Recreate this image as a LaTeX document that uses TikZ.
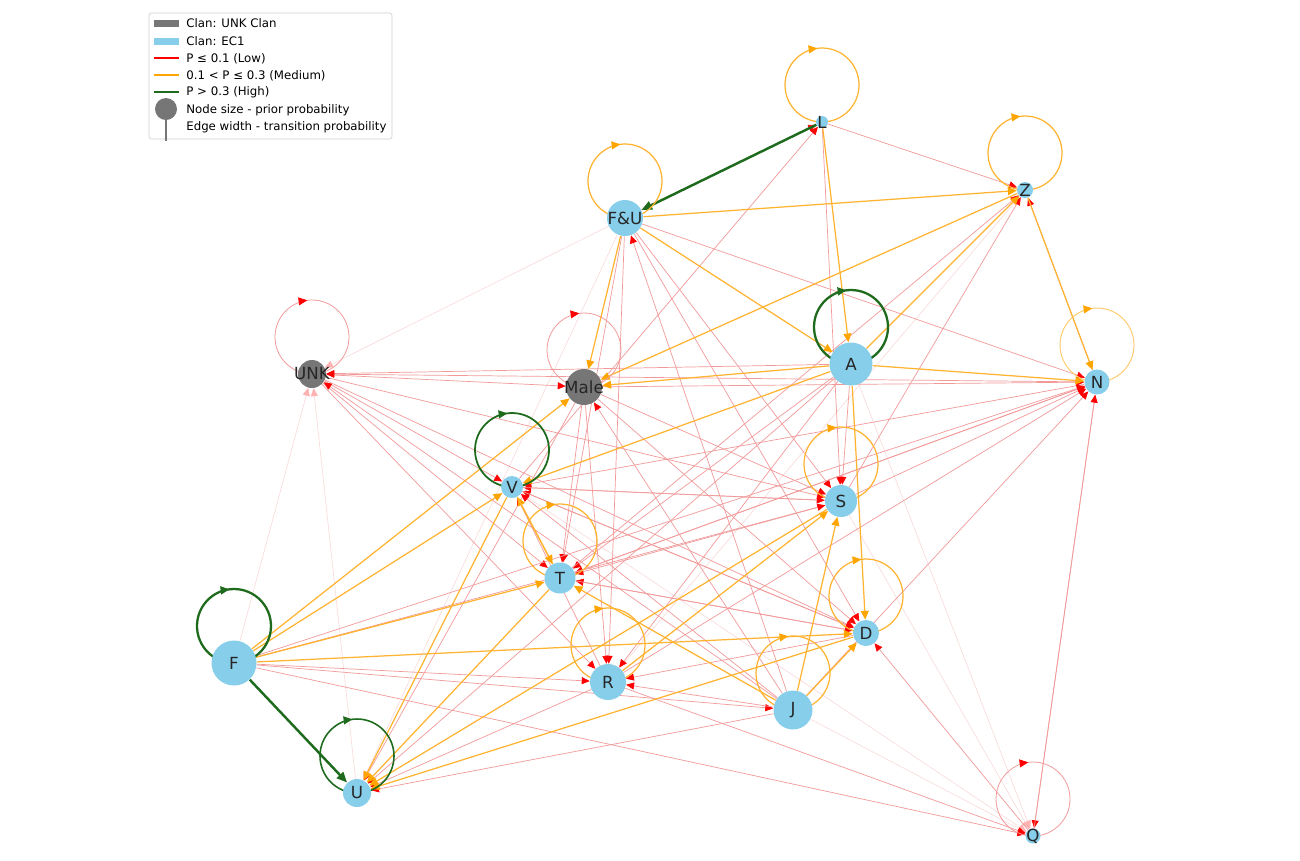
\documentclass[tikz,border=0pt]{standalone}
\usepackage{fontspec}
\setmainfont{DejaVu Sans}
\usetikzlibrary{arrows.meta,calc,backgrounds,decorations.markings}
\definecolor{skyblue}{HTML}{87CEEB}
\definecolor{clangray}{HTML}{767676}
\definecolor{lowred}{HTML}{F29A9A}
\definecolor{palered}{HTML}{FAD6D6}
\definecolor{medorange}{HTML}{FFB330}
\definecolor{tiporange}{HTML}{FFA500}
\definecolor{higreen}{HTML}{1E6B1E}
\tikzset{nd/.style={circle, fill=skyblue, inner sep=0pt, minimum size=#1},
  gnd/.style={nd=#1, fill=clangray},
  lbl/.style={font=\fontsize{9.5}{11}\selectfont, text=black!85, inner sep=0pt},
  lgd/.style={font=\fontsize{6.7}{8}\selectfont, anchor=west, inner sep=0pt},
  lo/.style={draw=lowred, line width=.4pt, -{Triangle[length=4.5pt,width=4pt,color=red]}},
  fa/.style={draw=palered, line width=.3pt, -{Triangle[length=4.5pt,width=4pt,color=red!30]}},
  md/.style={draw=medorange, line width=.7pt, -{Triangle[length=5pt,width=4.5pt,color=tiporange]}},
  hi/.style={draw=higreen, line width=1.4pt, -{Triangle[length=6pt,width=5pt]}},
  selfloop/.style={postaction={decorate}, decoration={markings,
    mark=at position .73 with {\arrow{Triangle[length=5pt,width=4.5pt,color=#1]}}}},
  loloop/.style={draw=lowred, line width=.45pt, selfloop=red},
  mdloop/.style={draw=medorange, line width=.7pt, selfloop=tiporange},
  hiloop/.style={draw=higreen, line width=#1, selfloop=higreen}}

\begin{document}
\begin{tikzpicture}[x=0.02cm, y=-0.02cm]
  \useasboundingbox (0,0) rectangle (1300,860);

  % states
  \node[nd=0.24cm, label={[lbl]center:L}] (L) at (822,122) {};
  \node[nd=0.32cm, label={[lbl]center:Z}] (Z) at (1025,190) {};
  \node[nd=0.72cm, label={[lbl]center:F\&U}] (FU) at (625,218) {};
  \node[nd=0.86cm, label={[lbl]center:A}] (A) at (851,364) {};
  \node[nd=0.50cm, label={[lbl]center:N}] (N) at (1097,382) {};
  \node[gnd=0.56cm, label={[lbl]center:UNK}] (UNK) at (312,374) {};
  \node[gnd=0.72cm, label={[lbl]center:Male}] (Male) at (584,387) {};
  \node[nd=0.44cm, label={[lbl]center:V}] (V) at (512,487) {};
  \node[nd=0.64cm, label={[lbl]center:S}] (S) at (841,501) {};
  \node[nd=0.62cm, label={[lbl]center:T}] (T) at (560,578) {};
  \node[nd=0.52cm, label={[lbl]center:D}] (D) at (866,633) {};
  \node[nd=0.90cm, label={[lbl]center:F}] (F) at (234,663) {};
  \node[nd=0.72cm, label={[lbl]center:R}] (R) at (608,682) {};
  \node[nd=0.78cm, label={[lbl]center:J}] (J) at (793,710) {};
  \node[nd=0.56cm, label={[lbl]center:U}] (U) at (357,793) {};
  \node[nd=0.30cm, label={[lbl]center:Q}] (Q) at (1033,836) {};

  \begin{scope}[on background layer]
    \fill[white] (0,0) rectangle (1300,860);
    % transitions
    \foreach \a/\b in {FU/UNK, F/UNK, U/UNK, A/Q, J/Q, FU/U, V/Q, S/Q, R/Z}
      \draw[fa] (\a) -- (\b);
    \foreach \a/\b in {UNK/Male, A/UNK, N/UNK, UNK/V, UNK/S, UNK/T, UNK/R, UNK/D, J/UNK,
        Male/N, Male/T, Male/R, J/Male, Male/D, Male/S, Male/U,
        FU/N, FU/T, FU/R, J/FU, FU/D, FU/S, FU/L, L/Z, L/S,
        A/T, A/S, A/R, A/U, N/V, N/T, R/N, J/N, S/N, N/Z, N/Q, Q/N,
        S/V, S/T, S/Z, F/S, D/R, D/V, D/T, F/N, F/R, F/J, Q/D, F/Q, R/Q,
        J/V, J/R, J/U, R/U, R/V, T/Z, T/N, T/D, V/L, V/S, V/D}
      \draw[lo] (\a) -- (\b);
    \foreach \a/\b in {FU/Z, L/A, A/D, A/Z, FU/A, A/N, Z/N, F/V, F/Male, F/T, F/D,
        V/U, T/U, T/V, V/T, Z/Male, A/Male, A/V, FU/Male, J/D, J/S, R/S, S/U, D/U, J/T}
      \draw[md] (\a) -- (\b);
    \draw[hi] (L) -- (FU);
    \draw[hi] (F) -- (U);
    % self transitions
    \foreach \n in {L, Z, FU, S, T, D, R, J}
      \draw[mdloop] ($(\n)+(0,-37)$) circle (37);
    \draw[mdloop, draw=medorange!70, line width=.55pt] ($(N)+(0,-37)$) circle (37);
    \foreach \n in {UNK, Male, Q}
      \draw[loloop] ($(\n)+(0,-37)$) circle (37);
    \draw[hiloop=1.3pt] ($(A)+(0,-37)$) circle (37);
    \draw[hiloop=1.3pt] ($(F)+(0,-37)$) circle (37);
    \draw[hiloop=1pt] ($(V)+(0,-37)$) circle (37);
    \draw[hiloop=.9pt] ($(U)+(0,-37)$) circle (37);
  \end{scope}

  % legend
  \draw[draw=black!18, fill=white, rounded corners=1.5pt] (149,13) rectangle (392,139);
  \fill[clangray] (154,20) rectangle (179,27);
  \fill[skyblue] (154,37.5) rectangle (179,44.5);
  \draw[red, line width=1.1pt] (154,58) -- (179,58);
  \draw[tiporange, line width=1.1pt] (154,75) -- (179,75);
  \draw[higreen, line width=1.1pt] (154,92) -- (179,92);
  \draw[clangray, line width=.8pt] (166,115) -- (166,141);
  \fill[clangray] (166,109) circle (11);
  \node[lgd] (lgclan) at (186,23.5) {Clan: UNK Clan};
  \node[lgd] (lgec) at (186,41) {Clan: EC1};
  \node[lgd] (lglow) at (186,58.5) {P ≤ 0.1 (Low)};
  \node[lgd] (lgmed) at (186,75.5) {0.1 < P ≤ 0.3 (Medium)};
  \node[lgd] (lghigh) at (186,92.5) {P > 0.3 (High)};
  \node[lgd] (lgsize) at (186,110) {Node size - prior probability};
  \node[lgd] (lgwidth) at (186,127.5) {Edge width - transition probability};
\end{tikzpicture}
\end{document}
